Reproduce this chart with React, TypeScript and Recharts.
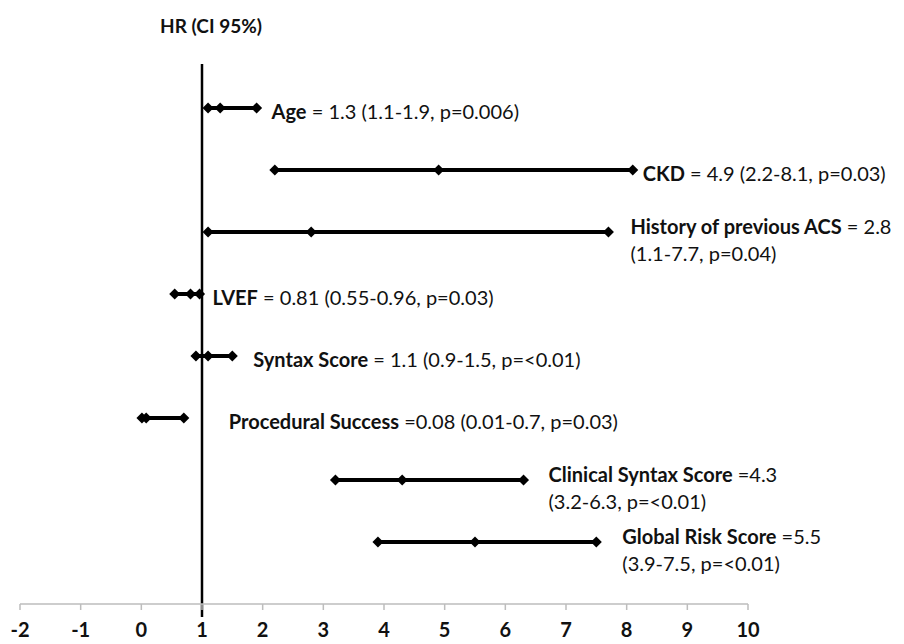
import { ComposedChart, Scatter, XAxis, YAxis, ZAxis, ReferenceLine } from "recharts"

const names = [
  "Age",
  "CKD",
  "History of previous ACS",
  "LVEF",
  "Syntax Score",
  "Procedural Success",
  "Clinical Syntax Score",
  "Global Risk Score",
]
const hr = [1.3, 4.9, 2.8, 0.81, 1.1, 0.08, 4.3, 5.5]
const lower = [1.1, 2.2, 1.1, 0.55, 0.9, 0.01, 3.2, 3.9]
const upper = [1.9, 8.1, 7.7, 0.96, 1.5, 0.7, 6.3, 7.5]
const pValues = ["0.006", "0.03", "0.04", "0.03", "<0.01", "0.03", "<0.01", "<0.01"]
const xTicks = [-2, -1, 0, 1, 2, 3, 4, 5, 6, 7, 8, 9, 10]

// label layout (pixels), kept apart from the values
const eqSign = [" = ", " = ", " = ", " = ", " = ", " =", " =", " ="]
const twoLines = [false, false, true, false, false, false, true, true]
const labelDx = [15, 10, 22, 13, 21, 45, 25, 26]

const FONT = "Lato, 'Open Sans', sans-serif"
const LABEL_SIZE = 20

const rows = names.map((name, i) => ({
  name,
  points: [
    { x: lower[i], y: i + 1, end: false, idx: i },
    { x: hr[i], y: i + 1, end: false, idx: i },
    { x: upper[i], y: i + 1, end: true, idx: i },
  ],
}))

function Marker(props: any) {
  const { cx, cy, payload } = props
  const s = 5.5
  const i = payload.idx
  const stats = `(${lower[i]}-${upper[i]}, p=${pValues[i]})`
  let label = null
  if (payload.end) {
    const tx = cx + labelDx[i]
    if (twoLines[i]) {
      label = (
        <g>
          <text x={tx} y={cy - 6} dominantBaseline="central" fontFamily={FONT} fontSize={LABEL_SIZE} fill="#111">
            <tspan fontWeight="bold">{names[i]}</tspan>
            <tspan>{eqSign[i] + hr[i]}</tspan>
          </text>
          <text x={tx} y={cy + 21} dominantBaseline="central" fontFamily={FONT} fontSize={LABEL_SIZE} fill="#111">
            {stats}
          </text>
        </g>
      )
    } else {
      label = (
        <text x={tx} y={cy + 3} dominantBaseline="central" fontFamily={FONT} fontSize={LABEL_SIZE} fill="#111">
          <tspan fontWeight="bold">{names[i]}</tspan>
          <tspan>{eqSign[i] + hr[i] + " " + stats}</tspan>
        </text>
      )
    }
  }
  return (
    <g>
      <polygon
        points={`${cx - s},${cy} ${cx},${cy - s} ${cx + s},${cy} ${cx},${cy + s}`}
        fill="#000"
      />
      {label}
    </g>
  )
}

export default function App() {
  return (
    <div style={{ position: "relative", width: 888, height: 636 }}>
      <div
        style={{
          position: "absolute",
          left: 152,
          top: 6,
          fontFamily: FONT,
          fontWeight: "bold",
          fontSize: 19,
          color: "#111",
          whiteSpace: "nowrap",
        }}
      >
        HR (CI 95%)
      </div>
      <ComposedChart width={888} height={636} margin={{ top: 38, right: 148, bottom: 2, left: 12 }}>
        <XAxis
          type="number"
          dataKey="x"
          domain={[-2, 10]}
          ticks={xTicks}
          interval={0}
          height={38}
          tickSize={6}
          tickMargin={13}
          stroke="#bdbdbd"
          axisLine={{ stroke: "#bdbdbd", strokeWidth: 1.5 }}
          tickLine={{ stroke: "#bdbdbd", strokeWidth: 1.5 }}
          tick={{ fill: "#111", fontSize: 20, fontWeight: "bold", fontFamily: FONT }}
        />
        <YAxis type="number" dataKey="y" domain={[0, 9]} reversed hide />
        <ZAxis range={[80, 80]} />
        <ReferenceLine
          segment={[
            { x: 1, y: 0.29 },
            { x: 1, y: 9.21 },
          ]}
          stroke="#000"
          strokeWidth={2.5}
          ifOverflow="visible"
        />
        {rows.map((r) => (
          <Scatter
            key={r.name}
            name={r.name}
            data={r.points}
            line={{ stroke: "#000", strokeWidth: 4 }}
            lineJointType="linear"
            shape={<Marker />}
            isAnimationActive={false}
          />
        ))}
      </ComposedChart>
    </div>
  )
}
